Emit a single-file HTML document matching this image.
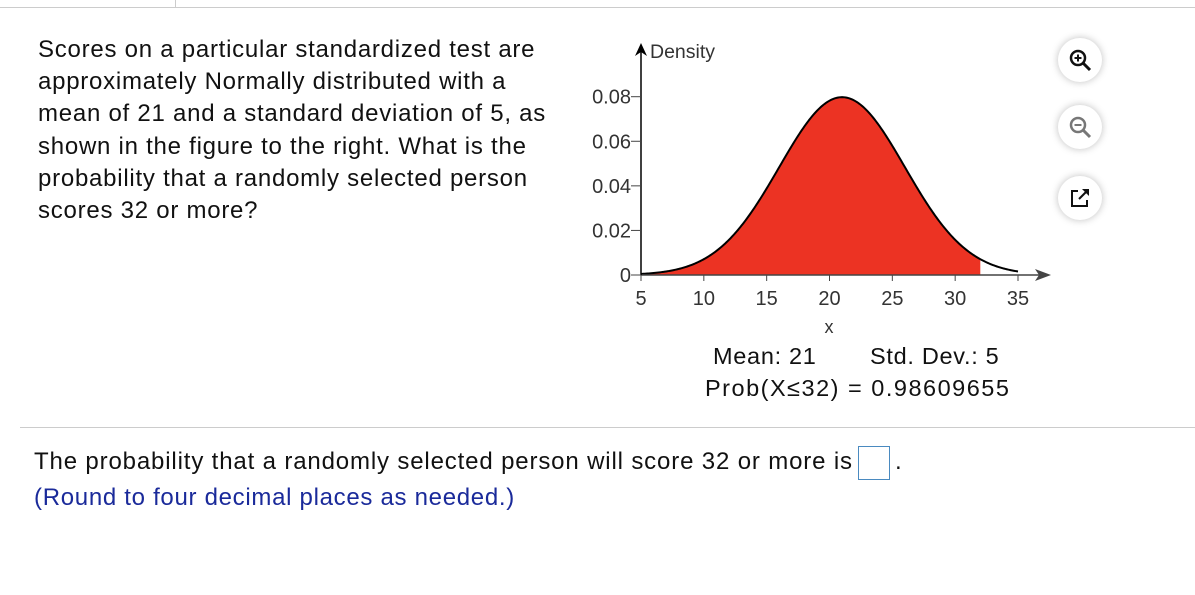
<!DOCTYPE html>
<html><head><meta charset="utf-8"><style>
body{margin:0;width:1195px;height:595px;background:#fff;font-family:"Liberation Sans",Arial,sans-serif;position:relative;overflow:hidden}
.q{position:absolute;left:38px;top:34px;width:530px;font-size:24px;letter-spacing:0.75px;line-height:32.2px;color:#111}
.t{position:absolute;font-size:23.5px;letter-spacing:0.7px;color:#111;white-space:nowrap}
.icon{position:absolute;width:44px;height:44px;border-radius:50%;background:#fff;box-shadow:0 0 8px rgba(0,0,0,.25)}
</style></head><body>
<div style="position:absolute;left:0;top:7px;width:1195px;height:1px;background:#ccc"></div>
<div style="position:absolute;left:175px;top:0;width:1px;height:8px;background:#ccc"></div>
<div class="q">Scores on a particular standardized test are approximately Normally distributed with a mean of 21 and a standard deviation of 5, as shown in the figure to the right. What is the probability that a randomly selected person scores 32 or more?</div>

<svg style="position:absolute;left:0;top:0" width="1195" height="420">
<g id="chart"></g>
</svg>

<div class="icon" style="left:1058px;top:38px"><svg width="44" height="44"><circle cx="20" cy="20" r="7" fill="none" stroke="#111" stroke-width="2.5"/><line x1="25" y1="25" x2="32" y2="32" stroke="#111" stroke-width="3"/><line x1="16.5" y1="20" x2="23.5" y2="20" stroke="#111" stroke-width="2"/><line x1="20" y1="16.5" x2="20" y2="23.5" stroke="#111" stroke-width="2"/></svg></div>
<div class="icon" style="left:1058px;top:105px"><svg width="44" height="44"><circle cx="20" cy="20" r="7" fill="none" stroke="#777" stroke-width="2.5"/><line x1="25" y1="25" x2="32" y2="32" stroke="#777" stroke-width="3"/><line x1="16.5" y1="20" x2="23.5" y2="20" stroke="#777" stroke-width="2"/></svg></div>
<div class="icon" style="left:1058px;top:176px"><svg width="44" height="44"><path d="M20 15 H14 V30 H29 V24" fill="none" stroke="#111" stroke-width="2"/><line x1="21" y1="23" x2="29" y2="15" stroke="#111" stroke-width="2"/><path d="M24 13 H31 V20 Z" fill="#111"/></svg></div>

<div class="t" style="left:713px;top:343px">Mean: 21</div>
<div class="t" style="left:870px;top:343px">Std. Dev.: 5</div>
<div class="t" style="left:705px;top:375px;letter-spacing:1.5px">Prob(X≤32) = 0.98609655</div>

<div style="position:absolute;left:20px;top:427px;width:1175px;height:1px;background:#ccc"></div>
<div class="t" style="left:34px;top:448px;font-size:24px;letter-spacing:0.85px">The probability that a randomly selected person will score 32 or more is</div>
<div style="position:absolute;left:858px;top:446px;width:30px;height:32px;border:1px solid #4a8ac0"></div>
<div class="t" style="left:895px;top:448px;font-size:24px">.</div>
<div class="t" style="left:34px;top:484px;font-size:24px;color:#1a2a9a">(Round to four decimal places as needed.)</div>

<script>
const xTicks=[5,10,15,20,25,30,35];
const yTicks=[0,0.02,0.04,0.06,0.08];
const yTickLabels=["0","0.02","0.04","0.06","0.08"];
const mean=[21];
const sd=[5];
const cutoff=[32];
const xRange=[5,35];
const X=v=>641+(v-5)*377/30;
const Y=v=>275-v*(178.3/0.08);
const pdf=x=>Math.exp(-0.5*((x-mean[0])/sd[0])**2)/(sd[0]*Math.sqrt(2*Math.PI));
const ns="http://www.w3.org/2000/svg";
const g=document.getElementById('chart');
function el(t,a){const e=document.createElementNS(ns,t);for(const k in a)e.setAttribute(k,a[k]);g.appendChild(e);return e;}
let fill=`M${X(xRange[0])},${Y(0)}`;
for(let x=xRange[0];x<=cutoff[0]+1e-9;x+=0.1)fill+=` L${X(x)},${Y(pdf(x))}`;
fill+=` L${X(cutoff[0])},${Y(pdf(cutoff[0]))} L${X(cutoff[0])},${Y(0)} Z`;
const f=el('path',{d:fill,fill:'#ec3323'});


let line='';
for(let x=xRange[0];x<=xRange[1]+1e-9;x+=0.1)line+=(line?' L':'M')+`${X(x)},${Y(pdf(x))}`;
const c=el('path',{d:line,fill:'none',stroke:'#000','stroke-width':2});


const xa=el('line',{x1:641,y1:Y(0),x2:1042,y2:Y(0),stroke:'#444','stroke-width':1.5});


el('path',{d:`M1051,${Y(0)} L1035,${Y(0)-6} L1039,${Y(0)} L1035,${Y(0)+6} Z`,fill:'#444'});
const ya=el('line',{x1:641,y1:Y(0),x2:641,y2:50,stroke:'#000','stroke-width':1.5});


el('path',{d:`M641,43 L635,56 L641,52 L647,56 Z`,fill:'#000'});
const yt=el('text',{x:650,y:58,'font-size':19.5,fill:'#333','font-family':'Liberation Sans'});
yt.textContent='Density';


xTicks.forEach(v=>{
 el('line',{x1:X(v),y1:Y(0),x2:X(v),y2:Y(0)+6,stroke:'#444'});
 const t=el('text',{x:X(v),y:Y(0)+30,'font-size':20,fill:'#333','text-anchor':'middle','font-family':'Liberation Sans'});
 t.textContent=v;
 
 
});
yTicks.forEach((v,i)=>{
 el('line',{x1:631,y1:Y(v),x2:641,y2:Y(v),stroke:'#444'});
 const t=el('text',{x:631,y:Y(v)+7,'font-size':20,fill:'#333','text-anchor':'end','font-family':'Liberation Sans'});
 t.textContent=yTickLabels[i];
 
 
});
const xt=el('text',{x:829,y:Y(0)+58,'font-size':18,fill:'#333','text-anchor':'middle','font-family':'Liberation Sans'});
xt.textContent='x';


</script>
</body></html>
